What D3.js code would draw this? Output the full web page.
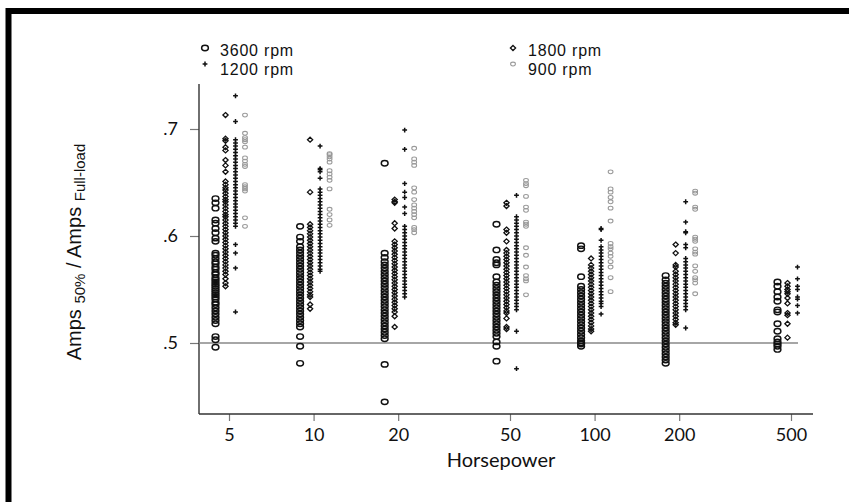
<!DOCTYPE html>
<html>
<head>
<meta charset="utf-8">
<script src="https://cdn.jsdelivr.net/npm/d3@7/dist/d3.min.js"></script>
<style>
  html, body { margin: 0; padding: 0; background: #fff; }
  svg { display: block; }
</style>
</head>
<body>
<svg id="chart" width="849" height="502"></svg>
<script>
// ---------------- DATA ----------------
const hpLevels = [5, 10, 20, 50, 100, 200, 500];
const xTickLabels = ["5", "10", "20", "50", "100", "200", "500"];
const yTickValues = [0.5, 0.6, 0.7];
const yTickLabels = [".5", ".6", ".7"];
const seriesNames = ["3600 rpm", "1800 rpm", "1200 rpm", "900 rpm"];

// values per horsepower level (same order as hpLevels)
const rpm3600 = [
  [0.635,0.631,0.626,0.615,0.612,0.607,0.603,0.598,0.595,0.584,0.582,0.579,0.576,0.574,0.571,0.569,0.566,0.564,0.561,0.559,0.557,0.555,0.553,0.551,0.549,0.547,0.545,0.543,0.541,0.538,0.536,0.533,0.530,0.527,0.524,0.521,0.518,0.506,0.503,0.496],
  [0.609,0.599,0.595,0.590,0.587,0.584,0.581,0.578,0.575,0.572,0.569,0.566,0.563,0.560,0.557,0.554,0.551,0.548,0.545,0.542,0.539,0.536,0.533,0.530,0.527,0.524,0.521,0.518,0.515,0.506,0.497,0.481],
  [0.668,0.584,0.580,0.576,0.573,0.570,0.567,0.564,0.561,0.558,0.555,0.552,0.549,0.546,0.543,0.540,0.537,0.534,0.531,0.528,0.525,0.522,0.519,0.516,0.513,0.510,0.507,0.504,0.480,0.445],
  [0.611,0.587,0.578,0.575,0.573,0.562,0.557,0.554,0.551,0.548,0.545,0.542,0.539,0.536,0.533,0.530,0.527,0.524,0.521,0.518,0.515,0.512,0.509,0.506,0.501,0.497,0.483],
  [0.591,0.588,0.562,0.553,0.550,0.547,0.544,0.541,0.538,0.535,0.532,0.529,0.526,0.523,0.520,0.517,0.514,0.511,0.508,0.505,0.502,0.500,0.499,0.497],
  [0.563,0.559,0.556,0.553,0.550,0.547,0.544,0.541,0.538,0.535,0.532,0.529,0.526,0.523,0.520,0.517,0.514,0.511,0.508,0.505,0.502,0.499,0.496,0.493,0.490,0.487,0.484,0.481],
  [0.557,0.553,0.548,0.543,0.539,0.531,0.529,0.518,0.511,0.504,0.501,0.499,0.497,0.494]
];
const rpm1800 = [
  [0.713,0.691,0.689,0.683,0.680,0.671,0.666,0.660,0.651,0.648,0.645,0.643,0.640,0.637,0.634,0.632,0.629,0.626,0.623,0.620,0.618,0.615,0.612,0.609,0.606,0.603,0.600,0.597,0.594,0.591,0.588,0.585,0.582,0.579,0.576,0.573,0.570,0.567,0.564,0.560,0.556,0.553],
  [0.690,0.641,0.611,0.608,0.605,0.602,0.599,0.596,0.593,0.590,0.587,0.584,0.581,0.578,0.575,0.572,0.569,0.566,0.563,0.560,0.557,0.554,0.551,0.548,0.545,0.543,0.536,0.532],
  [0.634,0.632,0.631,0.612,0.607,0.595,0.592,0.589,0.586,0.583,0.580,0.577,0.574,0.571,0.568,0.565,0.562,0.559,0.556,0.553,0.550,0.547,0.544,0.541,0.538,0.535,0.532,0.529,0.525,0.515],
  [0.631,0.628,0.606,0.603,0.595,0.587,0.584,0.581,0.578,0.575,0.572,0.569,0.566,0.563,0.560,0.557,0.554,0.551,0.548,0.545,0.542,0.539,0.536,0.533,0.530,0.528,0.523,0.515,0.513],
  [0.579,0.573,0.570,0.567,0.564,0.561,0.558,0.555,0.552,0.549,0.546,0.543,0.540,0.537,0.534,0.531,0.528,0.525,0.522,0.519,0.516,0.513,0.511],
  [0.592,0.584,0.573,0.571,0.567,0.564,0.561,0.558,0.555,0.552,0.549,0.546,0.543,0.540,0.537,0.534,0.531,0.528,0.525,0.522,0.519,0.517],
  [0.556,0.553,0.550,0.548,0.546,0.542,0.537,0.528,0.526,0.518,0.505]
];
const rpm1200 = [
  [0.731,0.707,0.690,0.687,0.684,0.681,0.678,0.675,0.672,0.669,0.666,0.663,0.660,0.657,0.654,0.651,0.648,0.645,0.642,0.639,0.636,0.633,0.630,0.627,0.624,0.621,0.618,0.615,0.612,0.609,0.592,0.584,0.570,0.529],
  [0.684,0.663,0.662,0.660,0.654,0.644,0.641,0.638,0.635,0.632,0.629,0.626,0.623,0.620,0.617,0.614,0.611,0.608,0.605,0.602,0.599,0.596,0.593,0.590,0.587,0.584,0.581,0.578,0.575,0.572,0.569,0.567],
  [0.699,0.681,0.649,0.641,0.636,0.627,0.621,0.609,0.606,0.603,0.600,0.597,0.594,0.591,0.588,0.585,0.582,0.579,0.576,0.573,0.570,0.567,0.564,0.561,0.558,0.555,0.552,0.549,0.546,0.543],
  [0.638,0.618,0.615,0.612,0.609,0.606,0.603,0.600,0.597,0.594,0.591,0.588,0.585,0.582,0.579,0.576,0.573,0.570,0.567,0.564,0.561,0.558,0.555,0.552,0.549,0.546,0.543,0.540,0.537,0.534,0.531,0.511,0.476],
  [0.607,0.606,0.596,0.590,0.587,0.584,0.581,0.578,0.575,0.572,0.569,0.566,0.563,0.560,0.557,0.554,0.551,0.548,0.545,0.542,0.539,0.537,0.534,0.527],
  [0.632,0.613,0.604,0.603,0.592,0.589,0.579,0.576,0.573,0.570,0.567,0.564,0.561,0.558,0.555,0.552,0.549,0.546,0.543,0.540,0.537,0.534,0.531,0.514],
  [0.571,0.560,0.553,0.550,0.543,0.541,0.535,0.528]
];
const rpm900 = [
  [0.713,0.696,0.692,0.690,0.688,0.683,0.673,0.670,0.667,0.665,0.648,0.646,0.644,0.642,0.617,0.609],
  [0.677,0.676,0.674,0.672,0.669,0.661,0.658,0.655,0.652,0.644,0.625,0.620,0.615,0.610],
  [0.682,0.672,0.669,0.666,0.645,0.641,0.634,0.629,0.626,0.623,0.620,0.617,0.608,0.606,0.603],
  [0.652,0.649,0.647,0.637,0.627,0.624,0.613,0.611,0.609,0.589,0.582,0.571,0.563,0.560,0.558,0.545],
  [0.660,0.644,0.641,0.636,0.632,0.626,0.614,0.593,0.590,0.588,0.584,0.581,0.576,0.571,0.561,0.548],
  [0.642,0.640,0.627,0.625,0.599,0.597,0.595,0.588,0.585,0.583,0.572,0.567,0.561,0.559,0.556,0.546],
  []
];

// ---------------- LAYOUT / STYLE ----------------
const svg = d3.select("#chart");
const x = d3.scaleLog().domain([5, 500]).range([229, 791]);
const y = d3.scaleLinear().domain([0.5, 0.7]).range([343, 129]);
const axisLeftX = 199, axisRightX = 813, axisBottomY = 414, axisTopY = 84;
const seriesOffset = [-13.5, -3.5, 6.5, 16];
const seriesData = [rpm3600, rpm1800, rpm1200, rpm900];

// frame (left and top edges)
svg.append("path")
  .attr("d", `M8.5,${502 + 10} V11 H${849 + 10}`)
  .attr("fill", "none").attr("stroke", "#000").attr("stroke-width", 6);

// axes
const xAxis = d3.axisBottom(x).tickValues(hpLevels).tickFormat((d, i) => xTickLabels[i]).tickSize(7).tickSizeOuter(0);
const gx = svg.append("g").attr("transform", `translate(0,${axisBottomY})`).call(xAxis);
gx.select(".domain").remove();
gx.selectAll(".tick line").attr("stroke", "#777").attr("stroke-width", 1.2);
gx.selectAll(".tick text").attr("fill", "#111").attr("font-family", "Lato, 'Open Sans', sans-serif")
  .attr("font-size", 18).attr("dy", null).attr("y", 27);
svg.append("line").attr("x1", axisLeftX).attr("x2", axisRightX).attr("y1", axisBottomY).attr("y2", axisBottomY)
  .attr("stroke", "#333").attr("stroke-width", 1.4);

const yAxis = d3.axisLeft(y).tickValues(yTickValues).tickFormat((d, i) => yTickLabels[i]).tickSize(9).tickSizeOuter(0);
const gy = svg.append("g").attr("transform", `translate(${axisLeftX},0)`).call(yAxis);
gy.select(".domain").remove();
gy.selectAll(".tick line").attr("stroke", "#777").attr("stroke-width", 1.2);
gy.selectAll(".tick text").attr("fill", "#111").attr("font-family", "Lato, 'Open Sans', sans-serif")
  .attr("font-size", 18).attr("x", -21);
svg.append("line").attr("x1", axisLeftX).attr("x2", axisLeftX).attr("y1", axisTopY).attr("y2", axisBottomY)
  .attr("stroke", "#333").attr("stroke-width", 1.4);

// reference line at .5
svg.append("line").attr("x1", axisLeftX).attr("x2", x(500) + 7).attr("y1", y(0.5)).attr("y2", y(0.5))
  .attr("stroke", "#888").attr("stroke-width", 1.5);

// marker drawing
function drawMarker(g, s, cx, cy) {
  if (s === 0) {
    g.append("ellipse").attr("cx", cx).attr("cy", cy).attr("rx", 3.4).attr("ry", 2.7)
      .attr("fill", "none").attr("stroke", "#111").attr("stroke-width", 1.45);
  } else if (s === 1) {
    g.append("path").attr("d", `M${cx},${cy - 2.5} L${cx + 2.6},${cy} L${cx},${cy + 2.5} L${cx - 2.6},${cy} Z`)
      .attr("fill", "none").attr("stroke", "#111").attr("stroke-width", 1.3);
  } else if (s === 2) {
    g.append("path").attr("d", `M${cx - 2.4},${cy} H${cx + 2.4} M${cx},${cy - 2.4} V${cy + 2.4}`)
      .attr("fill", "none").attr("stroke", "#111").attr("stroke-width", 1.5);
  } else {
    g.append("ellipse").attr("cx", cx).attr("cy", cy).attr("rx", 2.4).attr("ry", 1.9)
      .attr("fill", "none").attr("stroke", "#999").attr("stroke-width", 1.05);
  }
}

const pts = svg.append("g");
seriesData.forEach((ser, s) => {
  ser.forEach((vals, i) => {
    vals.forEach(v => drawMarker(pts, s, x(hpLevels[i]) + seriesOffset[s], y(v)));
  });
});

// legend
const legend = svg.append("g").attr("font-family", "'Liberation Sans', Arial, sans-serif")
  .attr("font-size", 16).attr("letter-spacing", 0.8).attr("fill", "#111");
const legSym = [[205, 48], [513, 48], [205, 64], [513, 64]];
const legBase = [56, 56, 75, 75];
seriesNames.forEach((name, s) => {
  const [lx, ly] = legSym[s];
  drawMarker(legend, s, lx, ly);
  legend.append("text").attr("x", lx + 15).attr("y", legBase[s]).text(name);
});

// axis titles
svg.append("text").attr("x", 501).attr("y", 467).attr("text-anchor", "middle")
  .attr("font-family", "Lato, 'Open Sans', sans-serif").attr("font-size", 20).attr("fill", "#111").text("Horsepower");

const yt = svg.append("text").attr("transform", "translate(81,252) rotate(-90)")
  .attr("text-anchor", "middle").attr("font-family", "'Liberation Sans', Arial, sans-serif")
  .attr("font-size", 20).attr("fill", "#111");
yt.append("tspan").text("Amps ");
yt.append("tspan").attr("font-size", 15).attr("dy", 4).text("50%");
yt.append("tspan").attr("dy", -4).text(" / Amps ");
yt.append("tspan").attr("font-size", 15).attr("dy", 4).text("Full-load");
</script>
</body>
</html>
